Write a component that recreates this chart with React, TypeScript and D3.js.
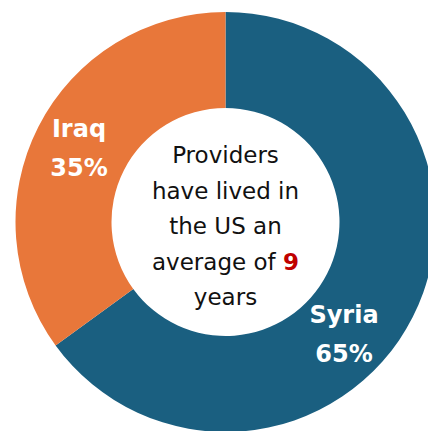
import React from "react";
import * as d3 from "d3";

const categories = ["Syria", "Iraq"];
const values = [65, 35];
const colors = ["#1A5F80", "#E8773A"];
const centerLines = ["Providers", "have lived in", "the US an", "average of ", "years"];
const highlight = "9";

const W = 428;
const H = 431;
const cx = 225.5;
const cy = 222;
const outerR = 210;
const innerR = 114;

export default function App() {
  const pie = d3.pie<number>().sort(null).value((d) => d);
  const arcs = pie(values);
  const arc = d3.arc<d3.PieArcDatum<number>>().innerRadius(innerR).outerRadius(outerR);
  const labelPos = [
    { x: 344, y: 323 },
    { x: 79, y: 137 },
  ];
  const lineGap = 35.5;
  const firstY = 163;
  return (
    <svg
      width={W}
      height={H}
      style={{ position: "absolute", left: 0, top: 0, background: "#fff" }}
    >
      <g transform={`translate(${cx},${cy})`}>
        {arcs.map((a, i) => (
          <path key={i} d={arc(a) || ""} fill={colors[i]} />
        ))}
      </g>
      {categories.map((c, i) => (
        <g key={c} fontFamily="'DejaVu Sans', sans-serif" fontWeight={700} fontSize={24} fill="#fff" textAnchor="middle">
          <text x={labelPos[i].x} y={labelPos[i].y}>{c}</text>
          <text x={labelPos[i].x} y={labelPos[i].y + 39}>{values[i]}%</text>
        </g>
      ))}
      <g fontFamily="'DejaVu Sans', sans-serif" fontSize={23} fill="#111" textAnchor="middle">
        {centerLines.map((l, i) => (
          <text key={i} x={cx} y={firstY + i * lineGap}>
            {l}
            {i === 3 ? <tspan fill="#C00000" fontWeight={700}>{highlight}</tspan> : null}
          </text>
        ))}
      </g>
    </svg>
  );
}
